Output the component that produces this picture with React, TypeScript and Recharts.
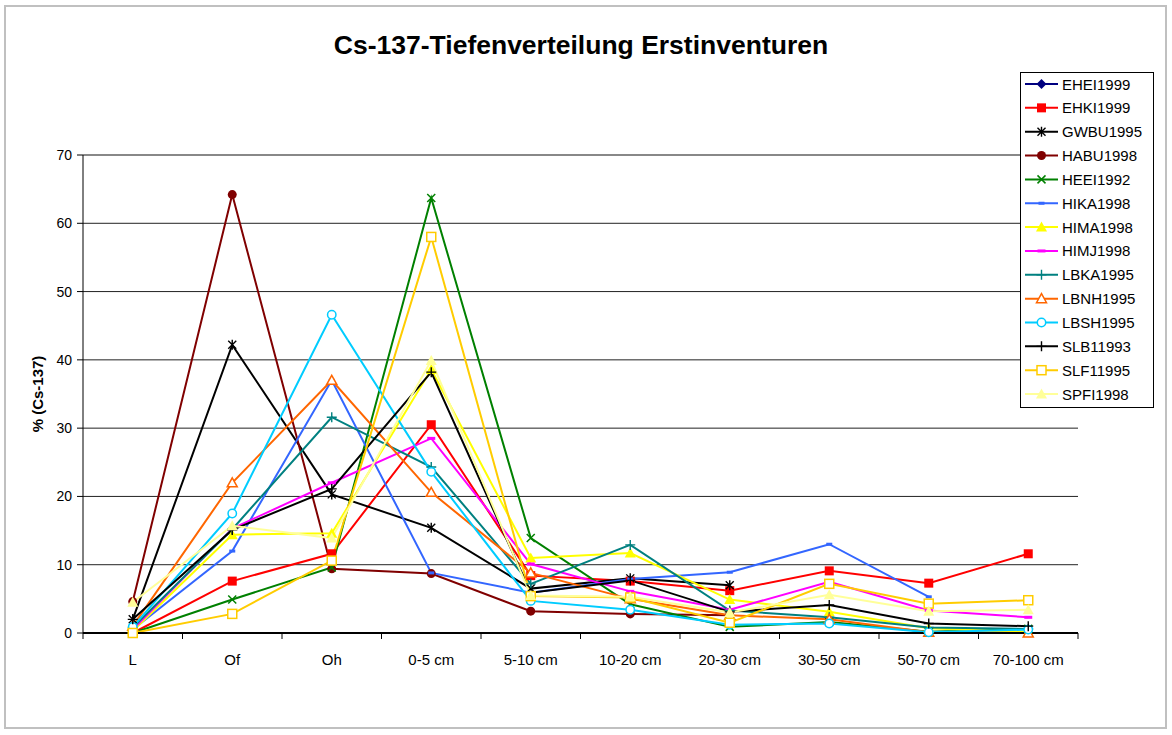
import { LineChart, Line, XAxis, YAxis, CartesianGrid, Legend, ReferenceLine } from "recharts";

// depth horizons (x axis)
const depths = ["L", "Of", "Oh", "0-5 cm", "5-10 cm", "10-20 cm", "20-30 cm", "30-50 cm", "50-70 cm", "70-100 cm"];
const yTicks = [0, 10, 20, 30, 40, 50, 60, 70];

// % of Cs-137 per horizon
const ehei1999 = [null, null, null, null, null, null, null, null, null, null];
const ehki1999 = [0, 7.6, 11.6, 30.5, 8.4, 7.6, 6.2, 9.1, 7.3, 11.6];
const gwbu1995 = [2.0, 42.2, 20.3, 15.4, 6.5, 8.0, 7.0, null, null, null];
const habu1998 = [4.6, 64.2, 9.4, 8.7, 3.2, 2.8, 2.6, null, null, null];
const heei1992 = [0, 4.9, 9.6, 63.7, 13.9, 4.2, 0.9, 1.6, 0.2, 0.6];
const hika1998 = [0.5, 12.0, 37.0, 8.8, 5.9, 7.9, 8.9, 13.0, 5.3, null];
const hima1998 = [0.3, 14.4, 14.6, 38.6, 11.0, 11.7, 4.9, 3.1, 0.7, 0.1];
const himj1998 = [0.5, 15.3, 22.0, 28.5, 10.1, 6.1, 3.4, 7.5, 3.3, 2.3];
const lbka1995 = [0.8, 15.2, 31.6, 24.3, 7.2, 12.9, 3.3, 2.3, 0.8, 0.6];
const lbnh1995 = [1.0, 22.0, 37.0, 20.6, 8.8, 5.0, 2.6, 2.0, 0.1, 0];
const lbsh1995 = [0.9, 17.5, 46.6, 23.6, 4.7, 3.4, 1.2, 1.4, 0.1, 0.5];
const slb11993 = [2.0, 15.1, 21.1, 38.2, 5.9, 7.7, 3.1, 4.1, 1.4, 1.0];
const slf11995 = [0, 2.8, 10.6, 58.0, 5.4, 5.2, 1.5, 7.2, 4.3, 4.8];
const spfi1998 = [4.5, 15.7, 13.9, 39.9, 5.5, 5.3, 3.0, 5.6, 3.2, 3.4];

const series = [
  { name: "EHEI1999", values: ehei1999, color: "#000080", marker: "diamond" },
  { name: "EHKI1999", values: ehki1999, color: "#FF0000", marker: "square" },
  { name: "GWBU1995", values: gwbu1995, color: "#000000", marker: "asterisk" },
  { name: "HABU1998", values: habu1998, color: "#800000", marker: "circle" },
  { name: "HEEI1992", values: heei1992, color: "#008000", marker: "x" },
  { name: "HIKA1998", values: hika1998, color: "#3366FF", marker: "smallDash" },
  { name: "HIMA1998", values: hima1998, color: "#FFFF00", marker: "triangle" },
  { name: "HIMJ1998", values: himj1998, color: "#FF00FF", marker: "dash" },
  { name: "LBKA1995", values: lbka1995, color: "#008080", marker: "plus" },
  { name: "LBNH1995", values: lbnh1995, color: "#FF6600", marker: "openTriangle" },
  { name: "LBSH1995", values: lbsh1995, color: "#00CCFF", marker: "openCircle" },
  { name: "SLB11993", values: slb11993, color: "#000000", marker: "plus" },
  { name: "SLF11995", values: slf11995, color: "#FFCC00", marker: "openSquare" },
  { name: "SPFI1998", values: spfi1998, color: "#FFFF99", marker: "triangle" },
];

const data = depths.map((depth, i) => {
  const row: Record<string, any> = { depth };
  series.forEach((s) => (row[s.name] = s.values[i]));
  return row;
});

const FONT = "'Liberation Sans', Arial, sans-serif";

function Marker({ kind, color, cx, cy }: { kind: string; color: string; cx: number; cy: number }) {
  switch (kind) {
    case "diamond":
      return <path d={`M${cx} ${cy - 5}L${cx + 5} ${cy}L${cx} ${cy + 5}L${cx - 5} ${cy}Z`} fill={color} />;
    case "square":
      return <rect x={cx - 4.5} y={cy - 4.5} width={9} height={9} fill={color} />;
    case "openSquare":
      return <rect x={cx - 4.5} y={cy - 4.5} width={9} height={9} fill="#fff" stroke={color} strokeWidth={1.5} />;
    case "asterisk":
      return (
        <path
          d={`M${cx - 4} ${cy - 4}L${cx + 4} ${cy + 4}M${cx + 4} ${cy - 4}L${cx - 4} ${cy + 4}M${cx} ${cy - 5}L${cx} ${cy + 5}`}
          stroke={color}
          strokeWidth={1.4}
        />
      );
    case "x":
      return (
        <path d={`M${cx - 4} ${cy - 4}L${cx + 4} ${cy + 4}M${cx + 4} ${cy - 4}L${cx - 4} ${cy + 4}`} stroke={color} strokeWidth={1.5} />
      );
    case "plus":
      return <path d={`M${cx - 5} ${cy}L${cx + 5} ${cy}M${cx} ${cy - 5}L${cx} ${cy + 5}`} stroke={color} strokeWidth={1.4} />;
    case "circle":
      return <circle cx={cx} cy={cy} r={4.5} fill={color} />;
    case "openCircle":
      return <circle cx={cx} cy={cy} r={4.2} fill="#fff" stroke={color} strokeWidth={1.5} />;
    case "triangle":
      return <path d={`M${cx} ${cy - 5.5}L${cx + 5.5} ${cy + 4.5}L${cx - 5.5} ${cy + 4.5}Z`} fill={color} />;
    case "openTriangle":
      return (
        <path d={`M${cx} ${cy - 5}L${cx + 5} ${cy + 4}L${cx - 5} ${cy + 4}Z`} fill="#fff" stroke={color} strokeWidth={1.5} />
      );
    case "dash":
      return <rect x={cx - 4} y={cy - 1.5} width={8} height={3} fill={color} />;
    case "smallDash":
      return <rect x={cx - 3} y={cy - 1.5} width={6} height={3} fill={color} />;
    default:
      return null;
  }
}

function DepthTick(props: any) {
  const { x, y, payload, index } = props;
  const half = payload.offset ?? 0;
  return (
    <g>
      <line x1={x - half} y1={y} x2={x - half} y2={y + 6} stroke="#000" strokeWidth={1} />
      {index === depths.length - 1 && <line x1={x + half} y1={y} x2={x + half} y2={y + 6} stroke="#000" strokeWidth={1} />}
      <text x={x} y={y + 32} textAnchor="middle" fontSize={15} fontFamily={FONT} fill="#000">
        {payload.value}
      </text>
    </g>
  );
}

function YTitle(props: any) {
  const { viewBox } = props;
  const cx = viewBox.x - 1;
  const cy = viewBox.y + viewBox.height / 2;
  return (
    <text
      x={cx}
      y={cy}
      transform={`rotate(-90 ${cx} ${cy})`}
      textAnchor="middle"
      dominantBaseline="central"
      fontSize={15}
      fontWeight="bold"
      fontFamily={FONT}
      fill="#000"
    >
      % (Cs-137)
    </text>
  );
}

function LegendBox() {
  const rowH = 23.85;
  return (
    <svg width={134} height={336} style={{ display: "block" }}>
      <rect x={0.5} y={0.5} width={133} height={335} fill="#fff" stroke="#000" strokeWidth={1} />
      {series.map((s, i) => {
        const cy = 12 + i * rowH;
        return (
          <g key={s.name}>
            <line x1={5} y1={cy} x2={38} y2={cy} stroke={s.color} strokeWidth={2} />
            <Marker kind={s.marker} color={s.color} cx={21.5} cy={cy} />
            <text x={42} y={cy} dominantBaseline="central" fontSize={15} fontFamily={FONT} fill="#000">
              {s.name}
            </text>
          </g>
        );
      })}
    </svg>
  );
}

export default function App() {
  return (
    <div style={{ position: "absolute", left: 0, top: 0, width: 1172, height: 735, background: "#fff", fontFamily: FONT }}>
      <div
        style={{
          position: "absolute",
          left: 4,
          top: 5,
          width: 1163,
          height: 724,
          border: "2px solid #c0c0c0",
          boxSizing: "border-box",
        }}
      />
      <div
        style={{
          position: "absolute",
          left: 0,
          width: 1162,
          top: 30,
          textAlign: "center",
          fontSize: 26.5,
          fontWeight: "bold",
          color: "#000",
          zIndex: 2,
        }}
      >
        Cs-137-Tiefenverteilung Erstinventuren
      </div>
      <LineChart width={1172} height={735} data={data} margin={{ top: 155, right: 94, bottom: 72, left: 38 }}>
        <CartesianGrid vertical={false} stroke="#222" strokeWidth={1} />
        <XAxis
          dataKey="depth"
          scale="band"
          tick={<DepthTick />}
          tickLine={false}
          tickSize={0}
          tickMargin={0}
          height={30}
          interval={0}
          axisLine={{ stroke: "#000", strokeWidth: 2 }}
        />
        <YAxis
          width={45}
          domain={[0, 70]}
          ticks={yTicks}
          tickSize={6}
          tickMargin={5}
          tick={{ fontSize: 14, fill: "#000", fontFamily: FONT }}
          tickLine={{ stroke: "#000" }}
          axisLine={{ stroke: "#000" }}
          label={YTitle}
        />
        <YAxis yAxisId="frame" orientation="right" width={0} tick={false} tickLine={false} axisLine={{ stroke: "#888", strokeWidth: 2 }} />
        <ReferenceLine y={70} stroke="#888" strokeWidth={2} />
        {series.map((s) => (
          <Line
            key={s.name}
            dataKey={s.name}
            stroke={s.color}
            strokeWidth={2}
            isAnimationActive={false}
            connectNulls={false}
            dot={(p: any) =>
              p.value == null || p.cy == null ? (
                <g key={`${s.name}-${p.index}`} />
              ) : (
                <g key={`${s.name}-${p.index}`}>
                  <Marker kind={s.marker} color={s.color} cx={p.cx} cy={p.cy} />
                </g>
              )
            }
            activeDot={false}
          />
        ))}
        <Legend
          layout="vertical"
          align="center"
          verticalAlign="middle"
          width={134}
          wrapperStyle={{ left: 1020, top: 72, width: 134, height: 336 }}
          content={() => <LegendBox />}
        />
      </LineChart>
    </div>
  );
}
